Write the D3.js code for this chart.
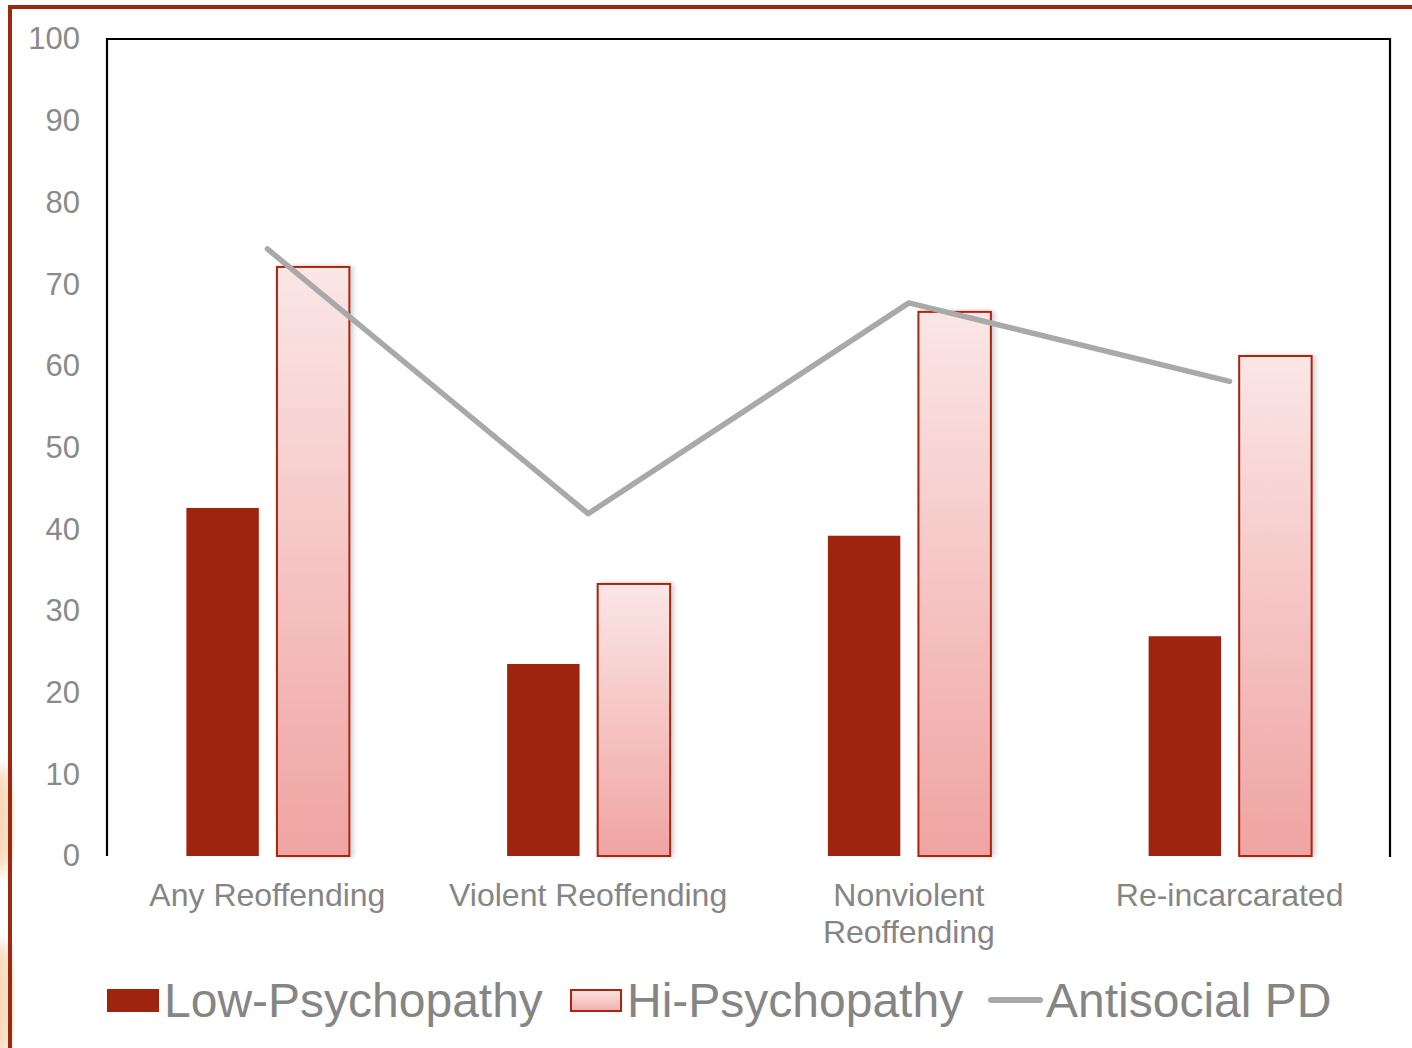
<!DOCTYPE html>
<html>
<head>
<meta charset="utf-8">
<script src="https://cdn.jsdelivr.net/npm/d3@7"></script>
<style>
  html, body { margin: 0; padding: 0; background: #fff; }
  svg { display: block; font-family: "Liberation Sans", Arial, sans-serif; }
</style>
</head>
<body>
<svg id="chart" width="1412" height="1048"></svg>
<script>
// Reoffending outcomes by group (percent)
const categories = ["Any Reoffending", "Violent Reoffending", "Nonviolent Reoffending", "Re-incarcarated"];
const categoryLines = [["Any Reoffending"], ["Violent Reoffending"], ["Nonviolent", "Reoffending"], ["Re-incarcarated"]];
const lowPsychopathy = [42.6, 23.5, 39.2, 26.9];
const hiPsychopathy = [72.1, 33.3, 66.6, 61.2];
const antisocialPD = [74.3, 41.9, 67.7, 58.1];
const yTicks = [0, 10, 20, 30, 40, 50, 60, 70, 80, 90, 100];
const seriesNames = ["Low-Psychopathy", "Hi-Psychopathy", "Antisocial PD"];

const svg = d3.select("#chart");
const W = 1412, H = 1048;
const plot = { left: 107, right: 1390, top: 39, bottom: 856 };

const defs = svg.append("defs");
const grad = defs.append("linearGradient").attr("id", "hiGrad")
  .attr("x1", 0).attr("y1", 0).attr("x2", 0).attr("y2", 1);
grad.append("stop").attr("offset", "0%").attr("stop-color", "#fbe6e6");
grad.append("stop").attr("offset", "100%").attr("stop-color", "#efa4a2");
const legGrad = defs.append("linearGradient").attr("id", "legGrad")
  .attr("x1", 0).attr("y1", 0).attr("x2", 0).attr("y2", 1);
legGrad.append("stop").attr("offset", "0%").attr("stop-color", "#fbe3e3");
legGrad.append("stop").attr("offset", "100%").attr("stop-color", "#f0b0ae");
const shadow = defs.append("filter").attr("id", "barShadow")
  .attr("x", "-20%").attr("y", "-5%").attr("width", "150%").attr("height", "110%");
shadow.append("feDropShadow").attr("dx", 3).attr("dy", 0).attr("stdDeviation", 2.5)
  .attr("flood-color", "#000").attr("flood-opacity", 0.18);
const soft = defs.append("filter").attr("id", "soft");
soft.append("feGaussianBlur").attr("stdDeviation", 6);

// slide decoration on the left edge
const deco = svg.append("g").attr("filter", "url(#soft)").attr("opacity", 0.8);
deco.append("ellipse").attr("cx", 0).attr("cy", 820).attr("rx", 12).attr("ry", 55).attr("fill", "#f6cfa6");
deco.append("ellipse").attr("cx", 0).attr("cy", 1000).attr("rx", 12).attr("ry", 60).attr("fill", "#f6cfa6");
svg.append("rect").attr("x", 0).attr("y", 0).attr("width", 8).attr("height", 700).attr("fill", "#fff");

// slide frame
svg.append("path")
  .attr("d", `M10,${H} L10,7 L${W},7`)
  .attr("fill", "none").attr("stroke", "#a0270f").attr("stroke-width", 4);

const y = d3.scaleLinear().domain([0, 100]).range([plot.bottom, plot.top]);
const x = d3.scaleBand().domain(categories).range([plot.left, plot.right]).padding(0);
const sub = d3.scaleBand().domain(["low", "hi"]).range([-81, 82]).paddingInner(0.2).paddingOuter(0);

// y axis labels
const yAxis = d3.axisLeft(y).tickValues(yTicks).tickSize(0).tickPadding(0);
const yg = svg.append("g").attr("transform", "translate(80,0)").call(yAxis);
yg.select(".domain").remove();
yg.selectAll("text").attr("fill", "#8a8a8a").style("font-size", "31px")
  .style("font-family", "'Liberation Sans', Arial, sans-serif");

// bars
const groups = svg.append("g").selectAll("g").data(categories).join("g")
  .attr("transform", d => `translate(${x(d) + x.bandwidth() / 2},0)`);

groups.append("rect")
  .attr("x", sub("low")).attr("width", sub.bandwidth())
  .attr("y", (d, i) => y(lowPsychopathy[i]))
  .attr("height", (d, i) => y(0) - y(lowPsychopathy[i]))
  .attr("fill", "#9e2410");

groups.append("rect")
  .attr("x", sub("hi")).attr("width", sub.bandwidth())
  .attr("y", (d, i) => y(hiPsychopathy[i]))
  .attr("height", (d, i) => y(0) - y(hiPsychopathy[i]))
  .attr("fill", "url(#hiGrad)")
  .attr("stroke", "#a8250f").attr("stroke-width", 2)
  .attr("filter", "url(#barShadow)");

// plot frame (left, top, right)
svg.append("path")
  .attr("d", `M${plot.left},${plot.bottom} L${plot.left},${plot.top} L${plot.right},${plot.top} L${plot.right},${plot.bottom + 1}`)
  .attr("fill", "none").attr("stroke", "#000").attr("stroke-width", 2.2);

// antisocial PD line
const line = d3.line()
  .x((d, i) => x(categories[i]) + x.bandwidth() / 2)
  .y(d => y(d));
svg.append("path").datum(antisocialPD)
  .attr("d", line)
  .attr("fill", "none").attr("stroke", "#a9a9a9").attr("stroke-width", 5.5)
  .attr("stroke-linejoin", "round").attr("stroke-linecap", "round");

// category labels
const xAxis = d3.axisBottom(x).tickSize(0).tickPadding(27);
const xg = svg.append("g").attr("transform", `translate(0,${plot.bottom})`).call(xAxis);
xg.select(".domain").remove();
xg.selectAll("text").each(function (d, i) {
  const t = d3.select(this);
  t.text(null).attr("fill", "#858585").style("font-size", "32px")
    .style("font-family", "'Liberation Sans', Arial, sans-serif");
  categoryLines[i].forEach((ln, j) => {
    t.append("tspan").attr("x", 0).attr("dy", j === 0 ? "0.71em" : "1.16em").text(ln);
  });
});

// legend
const leg = svg.append("g").style("font-size", "48px").attr("fill", "#858585");
leg.append("rect").attr("x", 107).attr("y", 989).attr("width", 52).attr("height", 23).attr("fill", "#9e2410");
leg.append("text").attr("x", 164).attr("y", 1017).text(seriesNames[0]);
leg.append("rect").attr("x", 571).attr("y", 990).attr("width", 50).attr("height", 21)
  .attr("fill", "url(#legGrad)").attr("stroke", "#a8250f").attr("stroke-width", 2);
leg.append("text").attr("x", 627).attr("y", 1017).text(seriesNames[1]);
leg.append("line").attr("x1", 991).attr("x2", 1040).attr("y1", 1000).attr("y2", 1000)
  .attr("stroke", "#a9a9a9").attr("stroke-width", 6).attr("stroke-linecap", "round");
leg.append("text").attr("x", 1046).attr("y", 1017).text(seriesNames[2]);
</script>
</body>
</html>
